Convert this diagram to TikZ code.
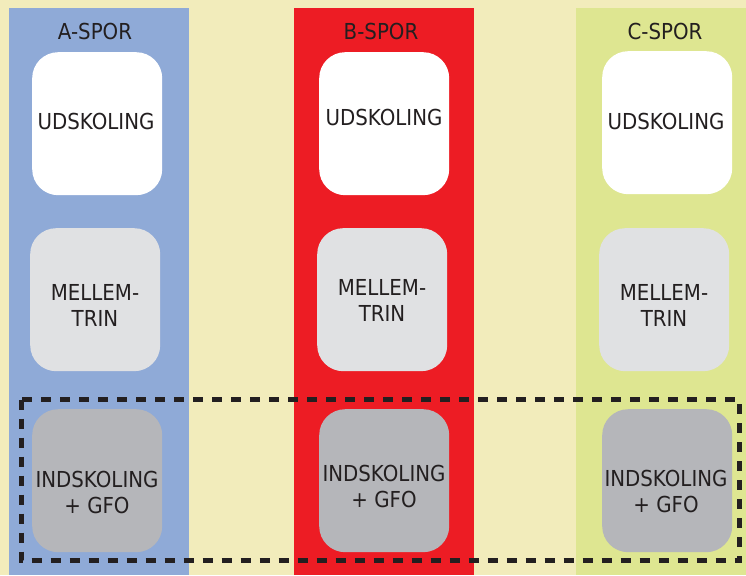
\documentclass[tikz,border=0pt]{standalone}
\usepackage{fontspec}
\setmainfont{DejaVu Sans}[FakeStretch=0.9]
\definecolor{bg}{RGB}{242,236,187}
\definecolor{colA}{RGB}{143,170,215}
\definecolor{colB}{RGB}{237,28,36}
\definecolor{colC}{RGB}{222,230,145}
\definecolor{boxU}{RGB}{255,255,255}
\definecolor{boxM}{RGB}{224,225,227}
\definecolor{boxI}{RGB}{181,182,186}
\definecolor{txt}{RGB}{35,31,32}
\begin{document}
\begin{tikzpicture}[x=1pt,y=-1pt,
  colbox/.style={fill=#1,draw=none},
  box/.style={fill=#1,draw=none,rounded corners=26pt,minimum width=130pt,minimum height=143pt,inner sep=0pt,anchor=north west},
  lbl/.style={text=txt,font=\fontsize{22}{26}\selectfont,align=center,inner sep=0pt},
  frame/.style={draw=txt,line width=4.5pt,dash pattern=on 10pt off 9pt}]
\useasboundingbox (0,0) rectangle (746,575);
\fill[bg] (0,0) rectangle (746,575);
% columns
\fill[colbox=colA] (9,8) rectangle (189,575);
\fill[colbox=colB] (294,8) rectangle (474,575);
\fill[colbox=colC] (576,8) rectangle (746,575);
% headers
\node[lbl] (hA) at (95,31) {A-SPOR};
\node[lbl] (hB) at (381,31) {B-SPOR};
\node[lbl] (hC) at (665,31) {C-SPOR};
% A column
\node[box=boxU] (aU) at (32,52) {};
\node[box=boxM] (aM) at (30,228) {};
\node[box=boxI] (aI) at (32,409) {};
\node[lbl] (aUt) at (96,121) {UDSKOLING};
\node[lbl] (aMt) at (95,305) {MELLEM-\\TRIN};
\node[lbl] (aIt) at (97,492) {INDSKOLING\\+ GFO};
% B column
\node[box=boxU] (bU) at (319,52) {};
\node[box=boxM] (bM) at (317,228) {};
\node[box=boxI] (bI) at (319,409) {};
\node[lbl] (bUt) at (384,117) {UDSKOLING};
\node[lbl] (bMt) at (382,300) {MELLEM-\\TRIN};
\node[lbl] (bIt) at (384,486) {INDSKOLING\\+ GFO};
% C column
\node[box=boxU] (cU) at (602,51) {};
\node[box=boxM] (cM) at (599,228) {};
\node[box=boxI] (cI) at (602,409) {};
\node[lbl] (cUt) at (666,121) {UDSKOLING};
\node[lbl] (cMt) at (664,305) {MELLEM-\\TRIN};
\node[lbl] (cIt) at (666,491) {INDSKOLING\\+ GFO};
% dashed frame
\coordinate (f1) at (21.5,399.5);
\coordinate (f2) at (739.5,560.5);
\draw[frame] (f1) rectangle (f2);
\end{tikzpicture}
\end{document}
